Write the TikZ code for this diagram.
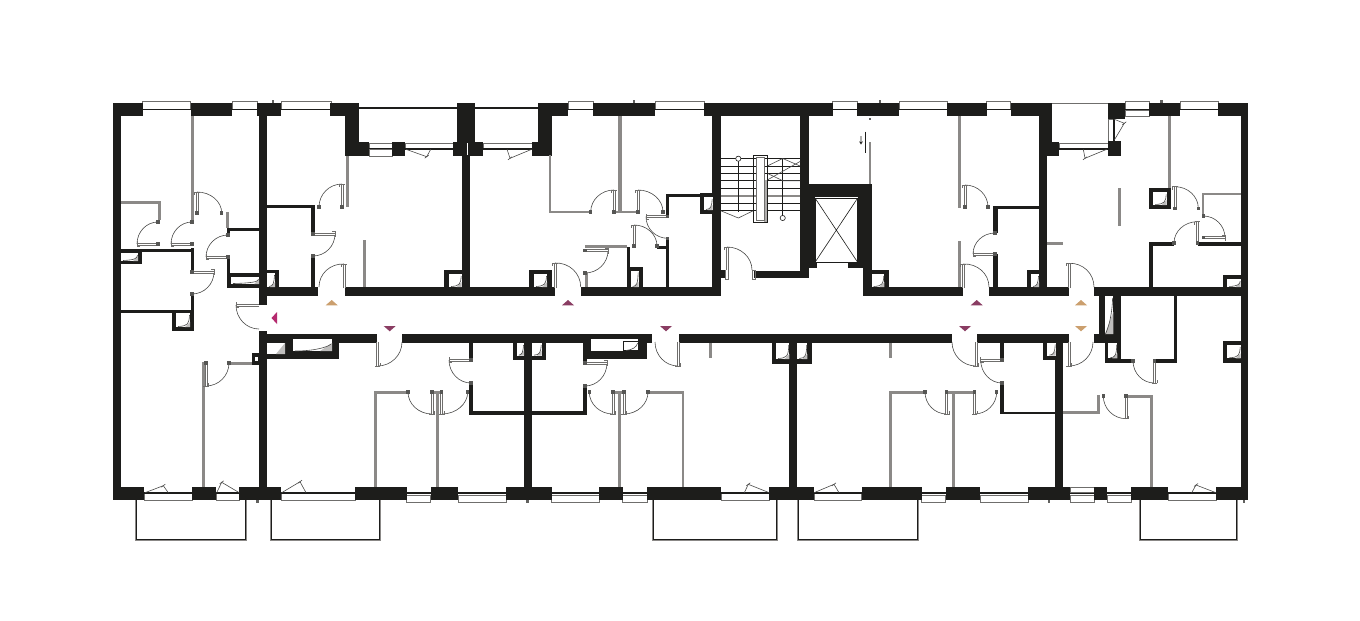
\documentclass[tikz,border=0pt]{standalone}
\usepackage{tikz}
\definecolor{wallc}{HTML}{1D1D1B}
\definecolor{partc}{HTML}{8B8987}
\definecolor{framec}{HTML}{6F6E6C}
\definecolor{tanc}{HTML}{CB9F6E}
\definecolor{plumc}{HTML}{8A3D63}
\definecolor{magc}{HTML}{B52A6E}
\tikzset{
  wall/.style={fill=wallc},
  part/.style={fill=partc},
  thinl/.style={draw=wallc!80,line width=0.45pt},
  hairl/.style={draw=wallc,line width=0.45pt},
  framel/.style={draw=framec,line width=0.55pt,fill=white},
  sashl/.style={draw=wallc,line width=1.25pt},
  leafl/.style={draw=framec,line width=0.5pt},
  arcl/.style={draw=wallc!80,line width=0.45pt},
  balout/.style={draw=partc,line width=1.5pt,fill=white},
  balin/.style={draw=wallc,line width=0.7pt},
  hatchf/.style={fill=partc!55},
  jamb/.style={fill=wallc!75},
  stepl/.style={draw=wallc,line width=0.6pt}
}
\newcommand\Wl[4]{\fill[wall] (#1,#2) rectangle (#3,#4);}
\newcommand\Gr[4]{\fill[part] (#1,#2) rectangle (#3,#4);}
\newcommand\Sh[8]{\fill[wall] (#1,#2) rectangle (#3,#4);
  \fill[white] (#5,#6) rectangle (#7,#8);
  \fill[hatchf] (#7,#8) -- ({#7-5},#8) -- (#7,{#8-5}) -- cycle;
  \draw[arcl] ({#5+2},{#8-.5}) .. controls ({#7-2},{#8-1}) and ({#7-1},{#8-3}) .. ({#7-.5},{#6+2});}
% door: hinge, open end of leaf, closed end of the arc
\newcommand\Dr[6]{%
  \draw[arcl] (#3,#4) .. controls ({#3+0.5523*(#5-#1)},{#4+0.5523*(#6-#2)}) and ({#5+0.5523*(#3-#1)},{#6+0.5523*(#4-#2)}) .. (#5,#6);
  \pgfmathsetmacro\dlen{veclen(#3-#1,#4-#2)}
  \pgfmathsetmacro\dnx{(#4-#2)/\dlen}
  \pgfmathsetmacro\dny{(#1-#3)/\dlen}
  \fill[white] ({#1+1.1*\dnx},{#2+1.1*\dny}) -- ({#3+1.1*\dnx},{#4+1.1*\dny}) -- ({#3-1.1*\dnx},{#4-1.1*\dny}) -- ({#1-1.1*\dnx},{#2-1.1*\dny}) -- cycle;
  \draw[leafl] ({#1+1.1*\dnx},{#2+1.1*\dny}) -- ({#3+1.1*\dnx},{#4+1.1*\dny});
  \draw[leafl] ({#1-1.1*\dnx},{#2-1.1*\dny}) -- ({#3-1.1*\dnx},{#4-1.1*\dny});
  \draw[leafl] ({#3+2.8*\dnx},{#4+2.8*\dny}) -- ({#3-2.8*\dnx},{#4-2.8*\dny});
  \draw[leafl] ({#3+2.8*\dnx},{#4+2.8*\dny}) -- ({#3+2.8*\dnx+3*(#1-#3)/\dlen},{#4+2.8*\dny+3*(#2-#4)/\dlen});
}
\newcommand\Dj[6]{\Dr{#1}{#2}{#3}{#4}{#5}{#6}
  \fill[jamb] ({#1-1.6},{#2-1.6}) rectangle ({#1+1.6},{#2+1.6});
  \fill[jamb] ({#5-1.6},{#6-1.6}) rectangle ({#5+1.6},{#6+1.6});}
\newcommand\WT[2]{\filldraw[framel] (#1,101.8) rectangle (#2,109); \draw[sashl] (#1,109.6) -- (#2,109.6);}
\newcommand\WA[2]{\filldraw[framel] (#1,493) rectangle (#2,500); \draw[sashl] (#1,492.8) -- (#2,492.8);}
\newcommand\WB[2]{\filldraw[framel] (#1,495) rectangle (#2,502); \draw[sashl] (#1,492.8) -- (#2,492.8);}
\newcommand\WR[2]{\filldraw[framel] (#1,143) rectangle (#2,148.4); \draw[sashl] (#1,149) -- (#2,149);}
\newcommand\Lf[6]{\draw[thinl] (#1,#2) -- (#3,#4) -- (#5,#6);
  \draw[thinl] ({#3-2},{#4+1.5}) -- ({#3+2},{#4-1.5});}
\newcommand\Mk[2]{\fill[wallc!70] ({#1-1.4},{#2-1.4}) rectangle ({#1+1.4},{#2+1.4});}
\begin{document}
\begin{tikzpicture}[x=0.75pt,y=-0.75pt]
\useasboundingbox (0,0) rectangle (1360,621);
\fill[white] (0,0) rectangle (1360,621);
% balconies
\foreach \a/\b in {136/245.7,271/380,653/777.3,798.3/918.3,1140/1236.7}{
  \filldraw[balout] (\a,499) rectangle (\b,540);
  \draw[balin] (\a+.4,499) -- (\a+.4,539.6) -- (\b-.4,539.6) -- (\b-.4,499);
}
% thin front lines
\draw[sashl] (359,108) -- (457,108);
\draw[sashl] (475,108) -- (538,108);
% top windows
\WT{142.7}{190.7}\WT{232}{257}\WT{281}{331}\WT{568}{593}\WT{655}{704}
\WT{832.7}{857.3}\WT{899}{947.3}\WT{986.7}{1010.7}\WT{1125}{1149}\WT{1180}{1218.3}
\filldraw[framel] (1125,110.5) rectangle (1149,116.5);
% recess
\draw[draw=framec,line width=.55pt] (1052,103.3) -- (1108,103.3);
\WR{369}{392}\WR{405}{453}\WR{483}{532}\WR{1059}{1108}
\filldraw[framel] (369,149.6) rectangle (392,156);
\filldraw[framel] (1108.5,119) rectangle (1113,141);
\draw[sashl] (1114,119) -- (1114,141);
% bottom windows
\WA{144}{192}\WA{216}{239}\WA{281}{355}\WA{721}{769.3}\WA{814}{861.7}\WA{1168.3}{1216}
\WB{406.7}{430.7}\WB{458.3}{506}\WB{551.7}{599.3}\WB{622.7}{647}
\WB{921.7}{945.7}\WB{980}{1028.3}\WB{1070}{1094}\WB{1107.3}{1131.3}
\filldraw[framel] (1070,487) rectangle (1094,492);
% outer walls
\Wl{113}{103}{142.7}{116}\Wl{113}{116}{121}{487}\Wl{190.7}{103}{232}{116}
\Wl{256.7}{103}{281.3}{116}\Wl{330}{103}{358.7}{116}\Wl{345}{116}{358.7}{156}
\Wl{345}{142.3}{369}{156}\Wl{392}{142.3}{405}{156}\Wl{456.7}{103}{475}{143}
\Wl{453}{142}{466.7}{155.7}\Wl{468}{142}{483}{155.7}\Wl{461.7}{155}{470}{288}
\Wl{531.7}{142}{551.7}{155.7}\Wl{538}{103}{551.7}{155.7}\Wl{538}{103}{568}{116}
\Wl{592.7}{103}{655}{116}\Wl{704}{103}{832.7}{116}\Wl{857.3}{103}{899}{116}
\Wl{947.3}{103}{986.7}{116}\Wl{1010.7}{103}{1052.3}{116}\Wl{1039}{103}{1052.3}{143}
\Wl{1039}{142.3}{1059.3}{155.7}\Wl{1039}{155}{1047.3}{288}\Wl{1107.7}{103}{1125}{119}
\Wl{1107.7}{141}{1121}{155.7}\Wl{1149}{103}{1180}{116}\Wl{1218.3}{103}{1248.3}{116}
\Wl{1240.7}{103}{1248.3}{500}
\foreach \a/\b in {113/144,192/216,239/281,355/406.7,430.7/458.3,506/551.7,599.3/622.7,647/721,769.3/814,861.7/921.7,945.7/980,1028.3/1070,1094/1107.3,1131.3/1168.3,1216/1248.3}
  \fill[wall] (\a,487) rectangle (\b,500);
% corridor walls
\foreach \a/\b in {266/318.3,345/555,581/720.7,863.3/963.3,989.3/1069,1094/1248}
  \fill[wall] (\a,287) rectangle (\b,296);
\foreach \a/\b in {267/377,402/652,679/951.7,977/1069,1094/1120}
  \fill[wall] (\a,334) rectangle (\b,343);
% structural partitions
\Wl{258.7}{116}{266.7}{305}\Wl{259}{331}{267}{487}
\Wl{712}{116}{720.7}{296}\Wl{800}{116}{809}{278}
\Wl{524}{343}{532}{487}\Wl{789.3}{343}{797.3}{487}\Wl{1055}{343}{1063.3}{487}
% stair landing walls
\Wl{754}{270.7}{809}{278}\Wl{720.7}{270}{725}{278}
% lift
\Wl{809}{184}{871.7}{197.3}\Wl{809}{184}{815}{268.3}\Wl{858.3}{184}{871.7}{262}
\Wl{863.3}{184}{871.7}{296}\Wl{809}{262.3}{816.7}{268.3}\Wl{848}{262.3}{863.3}{268.3}
\draw[hairl] (815,198) rectangle (857.7,262.3);
\draw[hairl] (815,198) -- (857.7,262.3) (857.7,198) -- (815,262.3);
% grey partitions
\Gr{191}{116}{194.3}{220}\Gr{121}{200.5}{160}{203.5}\Gr{157.5}{200.5}{160.5}{220}
\Gr{226}{212}{229}{228}\Gr{346}{156}{348.5}{207}\Gr{363}{240}{366}{287}
\Gr{618}{116}{621.7}{212}\Gr{548.7}{155}{551.3}{213}\Gr{549}{210.7}{591}{213.3}
\Gr{615}{210.7}{637.7}{213.3}\Gr{585}{245}{626.7}{248.3}\Gr{585}{273}{588}{287}
\Gr{868.7}{141.7}{871.3}{184}\Gr{958.3}{116}{961}{208}\Gr{958.3}{240.7}{961}{287}
\Gr{1168.3}{116}{1171}{188}\Gr{1201.7}{192.7}{1204.3}{215}\Gr{1202}{192.7}{1241}{195.3}
\Gr{1118}{187.7}{1121}{226}\Gr{1046.7}{242.3}{1062.7}{245.3}
\Gr{229}{362}{252}{365}\Gr{202}{362}{205}{487}
\Gr{373.5}{391}{407}{393.5}\Gr{373.5}{391}{377}{487}\Gr{432}{391}{441}{393.5}
\Gr{435.7}{392}{439}{487}\Gr{617.7}{392}{621}{487}\Gr{613}{391}{624}{393.5}
\Gr{648}{391}{684}{393.5}\Gr{681.7}{391}{684}{487}
\Gr{709}{343}{712}{358}\Gr{889}{343}{892}{358}
\Gr{889}{391}{925}{393.5}\Gr{889}{391}{892}{487}\Gr{948}{391}{973}{393.5}\Gr{951.7}{391}{955}{487}
\Gr{1063.3}{410.7}{1099.3}{414}\Gr{1096.7}{395}{1100}{414}\Gr{1126}{395}{1152.7}{397.7}\Gr{1150}{395}{1152.7}{487}
% black partitions
\Wl{121}{248.5}{193}{252}\Wl{191}{248}{194}{272}\Wl{191}{295}{194}{312}
\Wl{121}{309.5}{193}{313}\Wl{227}{228}{259}{231}\Wl{227}{228}{230}{235}
\Wl{227}{258}{230}{288}\Wl{266}{205}{312}{208}\Wl{311}{205}{315}{234}\Wl{311}{257}{315}{287}
\Wl{665.7}{194}{669.3}{215}\Wl{665.7}{193.5}{700}{196.7}\Wl{665.7}{238}{669.3}{287}
\Wl{656.7}{246}{669.3}{249.3}\Wl{626.7}{247}{630}{287}
\Wl{469}{343}{473}{360}\Wl{469}{383}{473}{414.7}\Wl{469}{411}{587}{414.7}
\Wl{583}{343}{587}{363}\Wl{583}{387}{587}{414.7}
\Wl{995}{205.7}{1039}{209}\Wl{993.3}{205.7}{997.7}{233}\Wl{993.3}{254}{997.7}{287}
\Wl{1149.3}{242}{1174}{245.7}\Wl{1198.3}{242}{1240.7}{245.7}\Wl{1149.3}{242}{1153.3}{287}
\Wl{1000}{343}{1004.3}{360}\Wl{1000}{383.3}{1004.3}{414.3}\Wl{1000}{411.7}{1056}{414.3}
\Wl{1174}{296}{1177.3}{362}\Wl{1155}{359}{1177.3}{362.7}\Wl{1105}{359}{1133.3}{362.7}
% shafts
\Sh{121}{251.7}{142.3}{264.3}{121}{253}{138}{261}
\Sh{172}{310}{194}{330.7}{176}{313}{190}{327}
\Sh{227}{273}{259}{288}{231}{277}{259}{284}
\Sh{267}{270}{279}{288}{267}{273}{275}{287}
\Sh{444}{270}{462}{287}{449}{274}{461.7}{287}
\Sh{529}{270}{551.7}{287}{534}{274}{547}{287}
\Sh{630}{266.7}{642.7}{287}{630.7}{270.7}{638.7}{287}
\Sh{700}{193}{712.7}{214}{704}{197}{712.7}{210}
\Sh{512.7}{343}{524}{360}{516.7}{343}{524}{355.7}
\Sh{532}{343}{546}{360}{532}{343}{541.7}{355.7}
\Sh{772.3}{343}{789.3}{364}{776}{343}{789.3}{359}
\Sh{797.3}{343}{811.7}{364}{797.3}{343}{807.3}{359}
\Sh{871.7}{270}{889}{287}{871.7}{274}{884.3}{287}
\Sh{1027.3}{270}{1039.3}{287}{1031}{274}{1039}{287}
\Sh{1223.3}{275}{1240.7}{287}{1227.3}{279}{1240.7}{287}
\Sh{1223.3}{340.7}{1240.7}{362.7}{1227.3}{345}{1240.7}{358.3}
\Sh{1149}{187.7}{1171}{209.3}{1153.3}{192.3}{1166.7}{205}
\Sh{1043}{342.7}{1055.7}{360}{1047.3}{342.7}{1055.7}{355.7}
\Sh{1105}{342.7}{1121}{362.7}{1108.3}{342.7}{1117.3}{358.3}
% corridor-side long shafts
\Wl{267}{334}{339}{359}
\fill[white] (267,343) rectangle (285,354);
\fill[hatchf] (285,343) -- (285,354) -- (276,354) -- cycle;
\fill[white] (293,339) rectangle (332,351);
\fill[hatchf] (332,351) -- (332,343) -- (320,351) -- cycle;
\draw[arcl] (295,351) .. controls (315,351) and (328,347) .. (331,344);
\Wl{583}{334}{646.7}{359}
\fill[white] (590.7,339) rectangle (638.3,351);
\draw[hairl] (623,341.7) rectangle (638,350.7);
\draw[arcl] (626,350.5) .. controls (632,350) and (637,347) .. (637.6,343);
\Wl{1099}{296}{1105}{334}\Wl{1113.3}{296}{1121}{343}
\fill[hatchf] (1113.3,334) -- (1105,334) -- (1113.3,312) -- cycle;
\draw[arcl] (1105.5,334) .. controls (1109,326) and (1112,315) .. (1112.6,298);
\fill[wall] (252,353) rectangle (259,365); \fill[white] (255,357) rectangle (257.5,360.5);
% doors
\Dj{158}{244}{137}{244}{158}{222}
\Dj{192}{244}{171}{244}{192}{222}
\Dj{197}{213}{197}{192}{221.7}{213}
\Dj{228}{257}{206}{257}{228}{235}
\Dj{192}{272}{214}{272}{192}{294}
\Dr{259}{305}{236}{305}{259}{329}
\Dj{342}{207}{342}{184}{319}{207}
\Dj{313}{234}{335}{234}{313}{256}
\Dr{344}{288}{344}{264}{319}{287}
\Dj{206}{363}{206}{386}{229}{363}
\Dr{377.5}{342}{377.5}{366}{402}{342}
\Dj{471}{360}{449}{360}{471}{383}
\Dj{585}{363}{607}{363}{585}{386}
\Dj{432}{392}{432}{414}{408}{392}
\Dj{441.7}{392}{441.7}{414}{467.7}{392}
\Dj{613}{392}{613}{414}{589.3}{392}
\Dj{624}{392}{624}{414}{648}{392}
\Dr{678}{342}{678}{366}{655}{342}
\Dj{614}{212}{614}{190}{590.7}{212}
\Dj{638}{212}{638}{190}{663}{212}
\Dj{667.7}{216.7}{646}{216.7}{667.7}{238.3}
\Dj{634}{246}{634}{225}{657}{246}
\Dj{585}{250.7}{608}{250.7}{585}{273}
\Dr{555}{288}{555}{263}{580.7}{287}
\draw[leafl] (752.5,270) rectangle (755,279);
\draw[leafl] (725.5,270) -- (725.5,279) -- (728.5,279) -- (728.5,270);
\Dr{727}{270}{727}{247}{752}{270}
\Dj{965}{207}{965}{185}{988}{207}
\Dr{963.3}{288}{963.3}{264}{989}{287}
\Dj{995}{254}{973}{254}{995}{233}
\Dj{1175}{208.3}{1175}{186.7}{1198.3}{208.3}
\Dj{1203.3}{237.7}{1225}{237.7}{1203.3}{216}
\Dj{1197.3}{243}{1197.3}{221.7}{1174}{243}
\Dr{1069}{288}{1069}{263.3}{1094}{287}
\Dr{976}{342}{976}{366}{952}{342}
\Dj{946.7}{392}{946.7}{414}{925}{392}
\Dj{974.3}{392}{974.3}{414}{996.7}{392}
\Dj{1002}{360}{980.7}{360}{1002}{383}
\Dr{1069}{342}{1069}{366}{1093}{342}
\Dj{1154.3}{361}{1154.3}{383}{1133}{361}
\Dj{1126}{396}{1126}{418.7}{1103.3}{396}
% balcony door leaves
\Lf{145}{492.7}{163.3}{485.7}{168.3}{492.7}
\Lf{216.7}{492.7}{221.7}{482.3}{239.3}{492.7}
\Lf{281.7}{492.7}{300}{481.7}{306}{492.7}
\Lf{744.3}{492.7}{748.3}{484.3}{769.3}{492.7}
\Lf{814}{492.7}{834}{484.3}{839}{492.7}
\Lf{1191.7}{492.7}{1196}{485}{1216}{492.7}
\Lf{406}{149.3}{426.7}{156.7}{430.7}{149.3}
\Lf{507}{149.3}{510}{158.3}{531.7}{149.3}
\Lf{1083.3}{149.3}{1085}{158.3}{1106.7}{149.3}
\Lf{1114.3}{140}{1124.3}{123.3}{1114.3}{119.3}
% stairs
\foreach \y in {158.3,166,173.3,180.7,188.3,203.3,210.7}
  \draw[stepl] (720.7,\y) -- (800,\y);
\draw[draw=partc,line width=1pt] (720.7,196) -- (800,196);
\draw[hairl] (738.3,158.7) -- (738.3,212);
\draw[hairl] (782.7,158) -- (782.7,218);
\draw[hairl,fill=white] (738.3,158.7) circle (2.6);
\draw[hairl,fill=white] (782.7,218) circle (2.6);
\draw[thinl] (720.7,210.7) -- (738.3,218) -- (753.3,210.7);
\draw[thinl] (767.3,166) -- (782.7,158.5) -- (800,166);
\draw[thinl] (767.3,180) -- (800,161.5);
\draw[thinl] (767.3,173.3) -- (782.7,180.7) -- (800,180.7);
\fill[partc!70] (764,180) rectangle (767.3,222);
\draw[draw=wallc,line width=.5pt] (753.3,155) rectangle (767.3,222.3);
\filldraw[draw=framec,line width=.5pt,fill=white] (756.5,157.5) rectangle (764,220);
% stair arrow
\draw[draw=wallc,line width=.6pt] (865,131.7) -- (865,153.3);
\draw[draw=wallc,line width=.4pt] (861,136) -- (861,144) (859.5,141.5) -- (861,144) -- (862.5,141.5);
\Mk{870}{119}
% small survey marks
\Mk{273}{101.7}\Mk{634}{101.7}\Mk{880}{101.7}\Mk{1161.7}{101.7}
\Mk{257.7}{501.7}\Mk{527.7}{501.7}\Mk{1049}{501.7}\Mk{1244}{501.7}
% triangles
\foreach \x/\c in {331.7/tanc,568/plumc,976.7/plumc,1081/tanc}
  \fill[\c] (\x-6,305.3) -- (\x+6,305.3) -- (\x,300) -- cycle;
\foreach \x/\c in {389.7/plumc,666/plumc,965/plumc,1081/tanc}
  \fill[\c] (\x-6,326) -- (\x+6,326) -- (\x,331.3) -- cycle;
\fill[magc] (277,312) -- (277,324) -- (271.5,318) -- cycle;
\end{tikzpicture}
\end{document}
